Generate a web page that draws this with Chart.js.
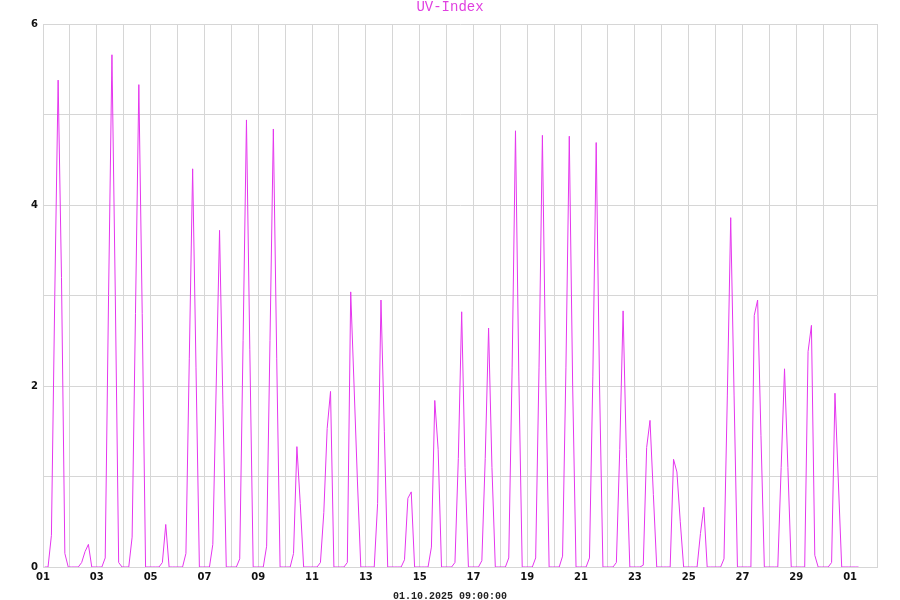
<!DOCTYPE html>
<html>
<head>
  <script src="https://cdn.jsdelivr.net/npm/chart.js@4/dist/chart.umd.min.js"></script>
  <style>
    body { margin: 0; background: #fff; }
  </style>
</head>
<body>
  <canvas id="uvChart" width="900" height="600"></canvas>
  <script>
// 3-hourly UV index, first sample 01.09. 01:30, last 01.10. 07:30
const firstHour = 1.5;
const stepHours = 3;
const uvIndex = [
  0, 0, 0.35, 3.0, 5.38, 3.2, 0.15, 0,     // 01
  0, 0, 0, 0.05, 0.17, 0.25, 0, 0,         // 02
  0, 0, 0.1, 3.0, 5.66, 3.0, 0.05, 0,      // 03
  0, 0, 0.33, 2.8, 5.33, 2.8, 0, 0,        // 04
  0, 0, 0, 0.05, 0.47, 0, 0, 0,            // 05
  0, 0, 0.15, 2.3, 4.4, 2.2, 0, 0,         // 06
  0, 0, 0.25, 2.0, 3.72, 1.8, 0, 0,        // 07
  0, 0, 0.09, 2.5, 4.94, 2.4, 0, 0,        // 08
  0, 0, 0.23, 2.5, 4.84, 2.3, 0, 0,        // 09
  0, 0, 0.15, 1.33, 0.7, 0, 0, 0,          // 10
  0, 0, 0.05, 0.6, 1.53, 1.94, 0, 0,       // 11
  0, 0, 0.05, 3.04, 2.0, 0.95, 0, 0,       // 12
  0, 0, 0, 0.7, 2.95, 1.5, 0, 0,           // 13
  0, 0, 0, 0.08, 0.76, 0.83, 0, 0,         // 14
  0, 0, 0, 0.22, 1.84, 1.3, 0, 0,          // 15
  0, 0, 0.05, 1.2, 2.82, 1.1, 0, 0,        // 16
  0, 0, 0.07, 1.2, 2.64, 1.1, 0, 0,        // 17
  0, 0, 0.1, 2.2, 4.82, 2.1, 0, 0,         // 18
  0, 0, 0.1, 2.2, 4.77, 2.1, 0, 0,         // 19
  0, 0, 0.12, 2.2, 4.76, 2.0, 0, 0,        // 20
  0, 0, 0.1, 2.1, 4.69, 2.0, 0, 0,         // 21
  0, 0, 0.05, 1.3, 2.83, 1.2, 0, 0,        // 22
  0, 0, 0.02, 1.32, 1.62, 0.8, 0, 0,       // 23
  0, 0, 0, 1.19, 1.05, 0.5, 0, 0,          // 24
  0, 0, 0, 0.37, 0.66, 0, 0, 0,            // 25
  0, 0, 0.09, 1.9, 3.86, 1.9, 0, 0,        // 26
  0, 0, 0, 2.78, 2.95, 1.45, 0, 0,         // 27
  0, 0, 0, 1.1, 2.19, 1.1, 0, 0,           // 28
  0, 0, 0, 2.38, 2.67, 0.13, 0, 0,         // 29
  0, 0, 0.05, 1.92, 0.95, 0, 0, 0,         // 30
  0, 0, 0                                  // 01.10.
];
// labels on every second day line
const tickLabels = ['01', '03', '05', '07', '09', '11', '13', '15', '17', '19', '21', '23', '25', '27', '29', '01'];
const yLabels = [0, 2, 4, 6];
const titleText = 'UV-Index';
const footerText = '01.10.2025 09:00:00';

const points = uvIndex.map((v, i) => ({ x: firstHour + i * stepHours, y: v }));

const gridColor = '#d6d6d6';
const lineColor = '#e536ee';

const textPlugin = {
  id: 'texts',
  afterDraw(chart) {
    const ctx = chart.ctx;
    ctx.save();
    ctx.textAlign = 'center';
    ctx.textBaseline = 'middle';
    ctx.fillStyle = '#e040e0';
    ctx.font = '14px "Liberation Mono"';
    ctx.fillText(titleText, 450, 7);
    ctx.fillStyle = '#222';
    ctx.font = 'bold 10px "Liberation Mono"';
    ctx.fillText(footerText, 450, 596);
    ctx.restore();
  }
};

new Chart(document.getElementById('uvChart'), {
  type: 'line',
  data: {
    datasets: [{
      label: titleText,
      data: points,
      borderColor: lineColor,
      borderWidth: 1,
      pointRadius: 0,
      tension: 0,
      fill: false
    }]
  },
  options: {
    responsive: false,
    animation: false,
    layout: { padding: { top: 24, right: 23, bottom: 0, left: 0 } },
    plugins: {
      legend: { display: false },
      title: { display: false },
      tooltip: { enabled: false }
    },
    scales: {
      x: {
        type: 'linear',
        min: 0,
        max: 744,
        afterFit(scale) { scale.height = 33; },
        grid: { color: gridColor, lineWidth: 1, drawTicks: false },
        border: { color: gridColor },
        ticks: {
          stepSize: 24,
          autoSkip: false,
          maxRotation: 0,
          padding: 4,
          color: '#111',
          font: { family: 'DejaVu Sans', size: 10, weight: 'bold' },
          callback(v) {
            const day = Math.round(v / 24);
            return day % 2 === 0 && tickLabels[day / 2] ? tickLabels[day / 2] : '';
          }
        }
      },
      y: {
        min: 0,
        max: 6,
        afterFit(scale) { scale.width = 43; },
        grid: { color: gridColor, lineWidth: 1, drawTicks: false },
        border: { color: gridColor },
        ticks: {
          stepSize: 1,
          padding: 5,
          color: '#111',
          font: { family: 'DejaVu Sans', size: 10, weight: 'bold' },
          callback(v) { return yLabels.includes(v) ? String(v) : ''; }
        }
      }
    }
  },
  plugins: [textPlugin]
});
  </script>
</body>
</html>
